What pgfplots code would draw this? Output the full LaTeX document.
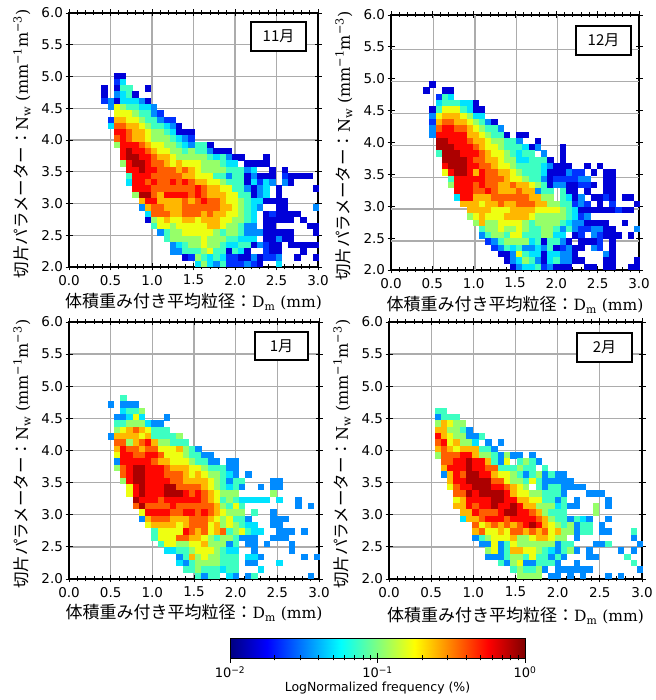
\documentclass[border=0pt]{standalone}
\usepackage{pgfplots}
\usepackage{fontspec}
\pgfplotsset{compat=1.18}
\setmainfont{DejaVu Sans}
\newfontfamily\cjk{Noto Sans CJK JP}
\newfontfamily\ser{DejaVu Serif}
\pgfdeclareplotmark{cell}{\pgfpathrectangle{\pgfqpoint{-3.2pt}{-3.2pt}}{\pgfqpoint{6.4pt}{6.4pt}}\pgfusepathqfill}
\newcount\ck
% one row of 2-D histogram cells: row index, first column index, colour levels (0 = empty bin)
\def\R#1#2#3{\ck=#2\relax
  \pgfplotsforeachungrouped \v in {#3}{%
    \ifnum\v>0\relax
      \pgfmathsetmacro\xx{0.0525+0.075*\the\ck}%
      \pgfmathsetmacro\yy{2.04935+0.0987*#1}%
      \xdef\cellbuf{\cellbuf (\xx,\yy) [\v] }%
    \fi
    \advance\ck by 1\relax}}
\pgfplotsset{
  panel/.style={scale only axis,xmin=0,xmax=3,ymin=2,ymax=6,axis on top,
    xtick={0,0.5,...,3},ytick={2,2.5,...,6},minor x tick num=4,
    grid=major,grid style={gray!65,line width=1.3pt},
    tick align=center,major tick length=7pt,minor tick length=5pt,
    every tick/.style={black,line width=0.9pt},
    axis line style={line width=1.2pt},
    tick label style={font=\fontsize{13.5}{14}\selectfont,/pgf/number format/fixed,/pgf/number format/fixed zerofill,/pgf/number format/precision=1,/pgf/number format/assume math mode=true},
    xticklabel style={yshift=-1pt},
    yticklabel style={xshift=1pt},
    xlabel style={font=\fontsize{17}{18}\selectfont},
    ylabel style={font=\fontsize{16.5}{18}\selectfont},
    xlabel={{\cjk 体積重み付き平均粒径：}{\ser\fontsize{15.5}{18}\selectfont D\textsubscript{m} (mm)}},
    ylabel={{\cjk 切片パラメーター：}{\ser\fontsize{16}{18}\selectfont N\textsubscript{w} (mm\textsuperscript{−1}m\textsuperscript{−3})}},
  },
  cellplot/.style={only marks,scatter,mark=cell,point meta=explicit,
    colormap/jet,point meta min=0,point meta max=11.5,
    scatter/use mapped color={fill=mapped color,draw=none}},
}
\gdef\cellbuf{}
\R{30}{7}{1,1}
\R{29}{7}{2,4}
\R{28}{5}{1,0,1,5,5,0,0,1}
\R{27}{5}{1,0,3,4,5,1}
\R{26}{5}{2,3,1,4,4,4,3,1}
\R{25}{6}{3,7,6,5,5,4,4,3}
\R{24}{7}{7,7,7,6,5,5,3,2}
\R{23}{6}{2,8,8,7,7,6,5,5,3,2,2}
\R{22}{6}{4,9,9,8,8,7,6,5,5,4,3,1}
\R{21}{7}{10,10,9,8,8,7,6,6,5,4,1,1,1}
\R{20}{7}{9,10,9,8,8,7,6,6,6,5,4,3,2}
\R{19}{7}{6,10,10,10,9,8,7,7,6,6,5,4,3,5,5,1}
\R{18}{8}{10,11,10,10,9,8,7,7,6,6,5,6,5,5,3,1,1,1}
\R{17}{8}{10,11,11,10,10,9,8,8,7,6,6,6,6,6,5,4,5,3,1,1,0,0,0,1}
\R{16}{8}{6,10,11,11,10,9,9,8,7,8,7,7,7,6,6,6,5,4,4,0,1,1,1,1}
\R{15}{9}{10,10,11,10,10,9,9,9,8,9,8,7,6,6,6,6,5,5,5,3,4,0,0,1,0,1}
\R{14}{9}{5,10,10,10,9,9,9,9,9,8,8,7,7,7,5,5,3,5,5,1,3,1,1,1,0,2,1,1,1,1}
\R{13}{9}{4,10,10,9,10,9,9,10,9,10,9,8,8,7,7,6,5,5,5,1,4,2,4,3,0,3,1}
\R{12}{10}{10,10,10,9,9,9,9,9,9,9,10,9,8,8,7,7,5,5,3,1,3,4,0,1,0,0,0,0,0,1}
\R{11}{10}{6,11,11,9,8,10,10,10,10,9,10,9,8,8,8,7,7,5,5,1,3,4,0,1}
\R{10}{11}{8,10,10,8,8,8,8,9,8,9,10,9,9,8,7,7,6,5,4,4,1,1,1,1}
\R{9}{11}{3,8,9,9,8,8,8,9,9,9,9,9,9,8,8,7,6,5,4,3,0,0,1,1,0,0,0,0,3}
\R{8}{12}{4,9,9,9,8,8,9,9,9,8,9,8,8,7,7,6,5,4,0,1,2,1,1,1,1}
\R{7}{12}{1,6,7,8,7,7,8,8,7,8,8,8,7,7,6,6,5,4,0,1,1,1,1,1,0,1}
\R{6}{13}{5,7,7,6,7,7,7,7,7,8,8,7,6,6,5,3,3,0,1,1,0,0,0,0,0,1,1}
\R{5}{14}{3,5,6,6,7,7,7,7,7,6,5,6,6,5,3,3,3,1,1,1,1,1,0,0,0,1}
\R{4}{15}{5,6,6,6,6,6,7,6,6,6,5,5,4,4,4,0,1,1,3,1,1}
\R{3}{16}{3,4,5,6,6,7,6,6,5,4,4,5,5,1,3,2,1,1,0,1,1,1,1,1}
\R{2}{16}{3,3,5,5,5,6,7,5,5,1,5,4,1,0,0,2,1,1,0,0,0,1}
\R{1}{18}{1,2,6,5,4,5,4,2,2,1,1,3,1,2,2,3,0,0,1,0,0,1}
\R{0}{20}{4,6,4,3,5,2,2,2,3,2,1,0,0,4}
\global\let\panelA\cellbuf
\gdef\cellbuf{}
\R{29}{6}{1}
\R{28}{5}{1,0,0,1,1}
\R{27}{7}{2,5,4}
\R{26}{7}{4,5,5,5,4,4,1}
\R{25}{6}{1,5,7,7,7,5,4,1,1}
\R{24}{6}{3,7,8,8,8,7,6,4,4}
\R{23}{6}{2,8,9,9,8,8,7,6,5,3,1}
\R{22}{6}{3,9,10,10,9,9,8,7,6,5,5,3}
\R{21}{6}{3,10,10,10,10,10,8,8,7,6,5,5,1,0,1,1}
\R{20}{7}{11,11,10,10,10,9,8,8,7,6,6,5,5,3,0,0,1}
\R{19}{7}{11,11,11,10,10,10,9,8,7,7,6,5,5,5,4,1,3,0,0,0,1}
\R{18}{7}{5,11,11,11,10,10,10,9,8,7,7,6,5,4,5,5,0,3,0,0,1}
\R{17}{8}{11,11,11,11,10,9,9,8,8,7,6,6,4,4,5,5,5,1,0,1}
\R{16}{8}{10,11,11,11,10,10,9,9,8,7,7,6,5,5,5,5,4,3,1,1,1,0,0,1,0,1}
\R{15}{8}{7,10,11,11,10,8,10,9,9,8,8,7,6,5,5,5,4,1,1,1,3,2,2,0,1,0,1,1}
\R{14}{9}{5,10,10,10,10,10,9,9,9,8,7,7,6,5,5,3,1,2,2,2,2,3,3,0,0,1,1}
\R{13}{9}{6,10,10,10,9,10,9,9,8,8,9,8,8,7,6,5,1,3,3,1,1,2,2,1,0,1,1}
\R{12}{10}{10,10,10,9,9,10,9,8,8,8,9,8,8,3,5,5,0,5,1,1,0,1,0,0,1,1}
\R{11}{10}{4,10,10,8,8,8,9,9,9,9,9,9,8,8,6,6,0,5,4,1,3,0,1,1,2,1,0,1,1}
\R{10}{11}{8,8,8,7,8,8,9,8,8,9,9,9,8,8,6,6,5,5,2,3,2,0,1,0,2,0,0,0,1}
\R{9}{12}{8,8,8,8,7,7,7,8,8,8,8,7,7,7,7,6,5,4,1,1,1,1,1,1,2,1,1}
\R{8}{12}{6,7,8,7,7,7,8,8,8,8,7,6,6,6,6,6,5,4,2,3}
\R{7}{13}{6,8,6,6,7,7,7,7,6,5,6,6,6,6,5,4,3,3,1,1,1,1,0,0,1}
\R{6}{14}{5,6,6,7,6,6,7,6,5,5,6,6,5,3,5,3,2,2,3,3,1,1,0,0,0,3}
\R{5}{14}{3,5,6,6,5,7,7,5,5,5,6,6,4,4,0,1,2,0,3,2,1,1,1,0,1}
\R{4}{15}{2,3,5,6,6,6,6,4,5,1,5,5,3,1,0,1,1,1,2,0,1}
\R{3}{16}{2,3,5,4,5,3,3,4,3,5,1,2,3,1,1,0,3,2,0,1}
\R{2}{17}{1,1,3,7,5,4,4,1,4,4,3,3,1,0,0,0,0,3,1}
\R{1}{18}{1,3,4,6,5,3,1,4,5,3,3,1,1,0,0,0,1,1,0,0,0,1}
\R{0}{19}{1,3,4,4,5,2,3,1,1,1,0,0,1,1,0,1,1,0,0,1,1}
\global\let\panelB\cellbuf
\gdef\cellbuf{}
\R{28}{8}{5}
\R{27}{6}{3,0,3,3,3}
\R{26}{8}{4,5,5,6}
\R{25}{7}{3,3,4,7,4,0,0,0,3}
\R{24}{7}{5,5,6,6,6,4,3,3}
\R{23}{7}{6,7,8,9,8,7,5,5,5}
\R{22}{6}{3,8,8,8,8,7,8,5,5,5,5,6}
\R{21}{7}{9,9,6,8,9,10,8,6,6,5,5,5}
\R{20}{7}{8,10,9,9,8,9,9,7,7,7,8,6,5,3}
\R{19}{7}{7,10,10,9,9,10,10,9,7,7,7,6,5,5,3,3}
\R{18}{7}{3,10,10,10,10,10,9,8,8,7,7,7,6,5,5,3,3,0,3,3}
\R{17}{7}{6,9,10,11,11,10,10,10,9,8,8,8,7,7,6,5,5,5,3,3}
\R{16}{8}{9,10,11,11,10,10,10,9,9,9,8,7,8,7,6,6,5,4,3,0,3}
\R{15}{8}{6,10,11,11,10,10,10,10,9,9,8,8,8,8,7,6,5,3,5,5,0,0,0,0,3,3}
\R{14}{9}{7,10,11,10,10,10,11,11,9,9,9,9,8,7,6,5,4,5,3,0,0,3,0,3,3}
\R{13}{9}{7,10,11,10,10,10,11,11,11,10,9,10,9,8,7,6,6,6,0,0,0,0,0,6}
\R{12}{10}{11,10,10,10,9,10,10,10,10,10,10,9,8,7,5,6,5,4,4,4,4,4,0,4,0,0,3}
\R{11}{10}{9,11,9,9,9,9,10,9,9,9,9,9,9,8,6,5,7,5,0,0,0,0,0,0,0,0,3,0,3}
\R{10}{11}{7,10,10,10,10,9,9,10,10,9,10,9,8,7,6,6,6,0,5,0,0,3}
\R{9}{11}{3,8,9,9,9,8,8,8,9,9,9,8,7,6,7,5,5,3,0,0,0,3,3,3}
\R{8}{12}{7,8,8,8,8,7,8,9,9,9,7,8,6,7,6,5,4,4,0,0,3,3}
\R{7}{13}{5,7,7,7,7,10,9,8,9,7,8,9,5,6,7,5,4,4,0,0,3,3,3,0,3}
\R{6}{13}{5,7,7,7,9,9,8,8,7,6,5,6,6,5,3,3,3,0,0,3,3,3}
\R{5}{14}{5,7,7,6,6,7,7,8,6,6,6,3,5,0,3,3,0,3,0,0,0,3}
\R{4}{15}{4,4,5,5,6,7,7,7,6,5,4,4,0,0,3,0,0,0,0,0,3}
\R{3}{17}{3,5,8,6,7,6,6,5,5,5,0,4,4,3,0,0,0,0,0,0,3,0,3}
\R{2}{17}{4,3,5,6,6,6,6,5,5,5,0,3,3,0,0,0,4}
\R{1}{18}{5,5,6,5,5,5,4,5,5,0,0,0,4}
\R{0}{20}{5,3,5,5,0,4,3,0,3,5,0,0,0,0,0,0,0,0,3}
\global\let\panelC\cellbuf
\gdef\cellbuf{}
\R{26}{7}{5,5}
\R{25}{7}{3,5,5,5}
\R{24}{7}{6,8,7,6,6}
\R{23}{7}{8,8,6,6,5,3}
\R{22}{7}{10,8,7,6,6,3,3,5}
\R{21}{7}{9,10,7,8,6,6,4,0,3,0,3}
\R{20}{7}{8,9,8,7,8,8,8,5,5,3}
\R{19}{7}{6,9,9,9,10,10,8,6,6,5,3,6,3,3,0,3}
\R{18}{8}{9,9,10,10,11,10,10,8,5,3,7,0,5,6,5,3}
\R{17}{8}{8,10,10,10,11,10,10,9,9,5,5,5,6,5,5,0,5}
\R{16}{8}{3,8,10,9,11,11,10,10,8,7,7,6,5,3,5,6,3,5,3,3}
\R{15}{9}{8,10,10,11,11,11,11,9,9,7,6,6,5,7,5,3,3,3,3,3}
\R{14}{9}{7,9,10,10,11,11,11,10,10,9,8,7,6,0,5,3,5,5,3,3,3,3}
\R{13}{10}{9,9,11,10,11,11,11,11,10,8,7,7,6,6,5,5,5,3,0,0,0,3,3,3}
\R{12}{10}{7,8,10,10,10,10,11,11,10,10,8,8,7,7,5,5,3,5,0,3,0,0,0,0,3}
\R{11}{10}{8,8,10,9,10,10,11,10,10,11,10,8,8,6,6,6,4,5,3,3,0,0,6,0,3}
\R{10}{11}{8,8,10,9,9,9,10,11,11,10,10,9,8,6,5,5,5,0,0,0,0,6}
\R{9}{11}{4,8,8,9,10,10,10,9,10,10,10,10,9,8,6,5,5,3,5,4,3,0,0,3}
\R{8}{13}{9,7,8,9,8,9,8,9,10,11,10,8,7,6,5,6,3,5,5,0,3}
\R{7}{13}{8,9,7,7,8,7,9,9,8,9,8,9,7,8,6,6,3,5,5,0,3,3,0,0,0,5}
\R{6}{13}{3,5,6,7,7,7,8,6,6,7,8,8,7,6,6,0,3,0,0,0,0,0,0,0,0,3}
\R{5}{14}{3,3,7,3,5,7,6,6,6,6,6,6,3,5,5,0,0,0,3,3,5,0,0,0,0,3}
\R{4}{15}{6,7,3,5,8,8,7,7,6,5,4,3,5,6,3,0,3,0,0,0,0,3,0,3}
\R{3}{15}{3,3,3,5,6,6,5,7,5,5,3,5,3,0,0,0,3,3,0,0,0,0,5}
\R{2}{17}{5,3,6,7,3,3,5,5,5,3,0,0,3,0,0,0,0,0,0,0,0,5}
\R{1}{19}{5,6,5,5,6,3,0,3,3,3,3,3,3,0,0,0,0,0,0,0,3}
\R{0}{20}{6,6,6,6,0,3,3,0,3,0,3,0,0,0,3,0,3}
\global\let\panelD\cellbuf
\begin{document}
\begin{tikzpicture}
\path[use as bounding box] (0,0) rectangle (655pt,700pt);
\begin{axis}[panel,at={(69pt,433pt)},anchor=south west,width=249pt,height=254pt,
  xlabel style={at={(axis description cs:0.5,-0.138)},anchor=center},
  ylabel style={at={(axis description cs:-0.189,0.485)},anchor=center}]
\edef\doit{\noexpand\addplot[cellplot] coordinates {\panelA};}\doit
\end{axis}
\begin{axis}[panel,at={(391pt,430pt)},anchor=south west,width=248pt,height=255pt,
  grid=none,
  extra x ticks={0.516,1.016,1.516,2.016},extra x tick labels={},
  extra y ticks={2.456,2.956,3.456,3.956,4.456,4.956,5.456},extra y tick labels={},
  extra tick style={grid=major,major tick length=0pt},
  xlabel style={at={(axis description cs:0.5,-0.137)},anchor=center},
  ylabel style={at={(axis description cs:-0.19,0.485)},anchor=center}]
\edef\doit{\noexpand\addplot[cellplot] coordinates {\panelB};}\doit
\end{axis}
\begin{axis}[panel,at={(69pt,121pt)},anchor=south west,width=250pt,height=257pt,
  xlabel style={at={(axis description cs:0.5,-0.132)},anchor=center},
  ylabel style={at={(axis description cs:-0.188,0.485)},anchor=center}]
\edef\doit{\noexpand\addplot[cellplot] coordinates {\panelC};}\doit
\end{axis}
\begin{axis}[panel,at={(389pt,121pt)},anchor=south west,width=253pt,height=257pt,
  xlabel style={at={(axis description cs:0.5,-0.144)},anchor=center},
  ylabel style={at={(axis description cs:-0.186,0.485)},anchor=center}]
\edef\doit{\noexpand\addplot[cellplot] coordinates {\panelD};}\doit
\end{axis}
\begin{axis}[scale only axis,at={(230pt,42pt)},anchor=south west,width=295pt,height=20pt,
  xmode=log,xmin=0.01,xmax=1,ymin=0,ymax=1,ytick=\empty,view={0}{90},axis on top,
  xtick={0.01,0.1,1},xticklabels={10\textsuperscript{−2},10\textsuperscript{−1},10\textsuperscript{0}},
  minor xtick={0.02,0.03,0.04,0.05,0.06,0.07,0.08,0.09,0.2,0.3,0.4,0.5,0.6,0.7,0.8,0.9},
  tick pos=bottom,tick align=center,major tick length=10pt,minor tick length=5pt,
  every tick/.style={black,line width=0.8pt},
  tick label style={font=\fontsize{13}{13}\selectfont},
  xlabel={LogNormalized frequency (\%)},
  xlabel style={font=\fontsize{12.5}{13}\selectfont,at={(axis description cs:0.5,-1.5)},anchor=center},
  colormap/jet,point meta min=0,point meta max=1]
\addplot3[surf,shader=interp,mesh/cols=2,point meta=explicit] coordinates {
(0.01,0,0) [0] (1,0,0) [1]
(0.01,1,0) [0] (1,1,0) [1]};
\end{axis}
\foreach \xa/\ya/\xb/\yb/\m in {251/22/306/51/11,576/26/631/55/12,255/332/308/360/1,577/333/632/362/2}{
  \draw[line width=1.2pt,fill=white] (\xa pt,700pt-\ya pt) rectangle (\xb pt,700pt-\yb pt);
  \node[font=\cjk\fontsize{15}{15}\selectfont] at ({(\xa+\xb)/2*1pt},{700pt-(\ya+\yb)/2*1pt}) {\m 月};
}
\end{tikzpicture}
\end{document}
